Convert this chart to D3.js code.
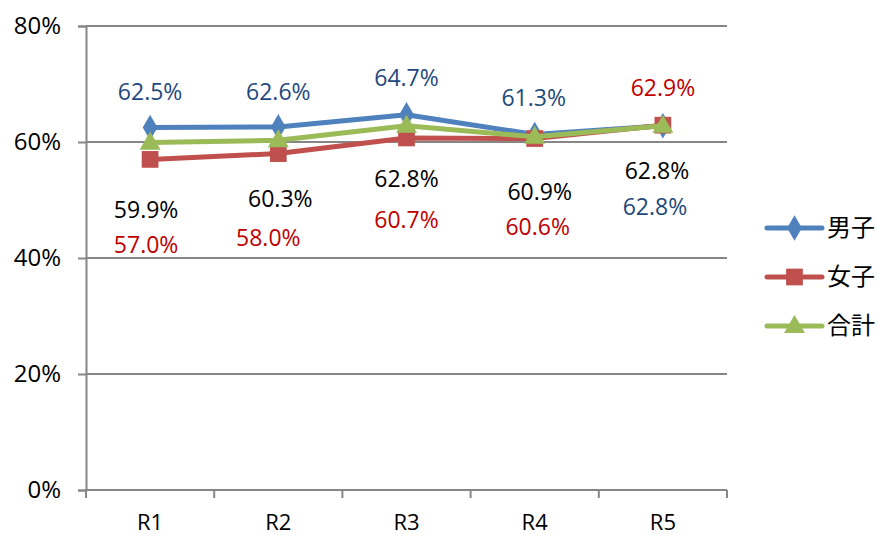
<!DOCTYPE html>
<html>
<head>
<meta charset="utf-8">
<script src="https://cdn.jsdelivr.net/npm/d3@7"></script>
<style>
  body { margin: 0; background: #fff; }
  text { font-family: "Open Sans", "Noto Sans", sans-serif; }
  .legend text { font-family: "Noto Sans CJK JP", sans-serif; }
</style>
</head>
<body>
<svg id="chart" width="878" height="537"></svg>
<script>
const categories = ["R1", "R2", "R3", "R4", "R5"];
const seriesNames = ["男子", "女子", "合計"];
const boys = [62.5, 62.6, 64.7, 61.3, 62.8];
const girls = [57.0, 58.0, 60.7, 60.6, 62.9];
const total = [59.9, 60.3, 62.8, 60.9, 62.8];
const yTicks = [0, 20, 40, 60, 80];

// label nudges (px) relative to each point, as placed in the original
const boysLabelDy = [-36, -35, -37, -37, 81];
const girlsLabelDy = [86, 84, 82, 88, -37];
const totalLabelDy = [67, 59, 53, 55, 45];
const boysLabelDx = [0, 0, 0, -1, -8];
const girlsLabelDx = [-4, -10, 0, 3, 0];
const totalLabelDx = [-4, 2, 0, 5, -6];

const series = [
  { name: seriesNames[0], values: boys, color: "#4F81BD", labelColor: "#1F497D", marker: "diamond", dx: boysLabelDx, dy: boysLabelDy },
  { name: seriesNames[1], values: girls, color: "#C0504D", labelColor: "#C00000", marker: "square", dx: girlsLabelDx, dy: girlsLabelDy },
  { name: seriesNames[2], values: total, color: "#9BBB59", labelColor: "#000000", marker: "triangle", dx: totalLabelDx, dy: totalLabelDy }
];

const svg = d3.select("#chart");
const margin = { left: 86, right: 151, top: 26, bottom: 47 };
const width = 878, height = 537;

const x = d3.scaleBand()
  .domain(categories)
  .range([margin.left, width - margin.right])
  .padding(0);

const y = d3.scaleLinear()
  .domain([0, 80])
  .range([height - margin.bottom, margin.top]);

const gridColor = "#868686";

// horizontal gridlines
svg.append("g")
  .selectAll("line")
  .data(yTicks.filter(t => t > 0))
  .enter().append("line")
  .attr("x1", margin.left)
  .attr("x2", width - margin.right)
  .attr("y1", d => y(d))
  .attr("y2", d => y(d))
  .attr("stroke", gridColor)
  .attr("stroke-width", 2);

// y axis
const yAxis = svg.append("g")
  .attr("transform", `translate(${margin.left},0)`)
  .call(d3.axisLeft(y).tickValues(yTicks).tickFormat(d => d + "%").tickSize(8).tickPadding(17));
yAxis.select(".domain").attr("stroke", gridColor).attr("stroke-width", 2);
yAxis.selectAll(".tick line").attr("stroke", gridColor).attr("stroke-width", 2);
yAxis.selectAll("text").attr("font-size", "24px").attr("fill", "#000")
  .style("font-family", "'Open Sans', sans-serif");

// x axis: line at baseline, ticks at category boundaries
const xAxis = svg.append("g")
  .attr("transform", `translate(0,${y(0)})`)
  .call(d3.axisBottom(x).tickSize(0).tickPadding(24));
xAxis.select(".domain").attr("stroke", gridColor).attr("stroke-width", 2)
  .attr("d", `M${margin.left},0H${width - margin.right}`);
xAxis.selectAll("text").attr("font-size", "22px").attr("fill", "#000")
  .style("font-family", "'Open Sans', sans-serif");
const edges = categories.map(c => x(c)).concat([x.range()[1]]);
xAxis.selectAll(".edge")
  .data(edges)
  .enter().append("line")
  .attr("class", "edge")
  .attr("x1", d => d).attr("x2", d => d)
  .attr("y1", 0).attr("y2", 8)
  .attr("stroke", gridColor)
  .attr("stroke-width", 2);

const cx = c => x(c) + x.bandwidth() / 2;

const symbolFor = {
  diamond: d3.symbol().type(d3.symbolDiamond).size(190),
  square: d3.symbol().type(d3.symbolSquare).size(280),
  triangle: d3.symbol().type(d3.symbolTriangle).size(190)
};

const line = d3.line()
  .x((d, i) => cx(categories[i]))
  .y(d => y(d));

series.forEach(s => {
  svg.append("path")
    .datum(s.values)
    .attr("fill", "none")
    .attr("stroke", s.color)
    .attr("stroke-width", 5)
    .attr("stroke-linejoin", "round")
    .attr("d", line);

  svg.append("g")
    .selectAll("path")
    .data(s.values)
    .enter().append("path")
    .attr("d", symbolFor[s.marker])
    .attr("transform", (d, i) => `translate(${cx(categories[i])},${y(d) + (s.marker === "triangle" ? 1 : 0)})`)
    .attr("fill", s.color);
});

// data labels
series.forEach(s => {
  svg.append("g")
    .selectAll("text")
    .data(s.values)
    .enter().append("text")
    .attr("x", (d, i) => cx(categories[i]) + s.dx[i])
    .attr("y", (d, i) => y(d) + s.dy[i])
    .attr("dy", "0.35em")
    .attr("text-anchor", "middle")
    .attr("font-size", "23px")
    .attr("fill", s.labelColor)
    .text(d => d.toFixed(1) + "%");
});

// legend
const legend = svg.append("g").attr("class", "legend")
  .attr("transform", "translate(767,228)");
series.forEach((s, i) => {
  const g = legend.append("g").attr("transform", `translate(0,${i * 49})`);
  g.append("line")
    .attr("x1", 0).attr("x2", 55)
    .attr("y1", 0).attr("y2", 0)
    .attr("stroke", s.color)
    .attr("stroke-width", 5)
    .attr("stroke-linecap", "round");
  g.append("path")
    .attr("d", symbolFor[s.marker])
    .attr("transform", `translate(27.5,${s.marker === "triangle" ? 1 : 0})`)
    .attr("fill", s.color);
  g.append("text")
    .attr("x", 60)
    .attr("y", 0)
    .attr("dy", "0.35em")
    .attr("font-size", "24px")
    .attr("fill", "#000")
    .text(s.name);
});
</script>
</body>
</html>
